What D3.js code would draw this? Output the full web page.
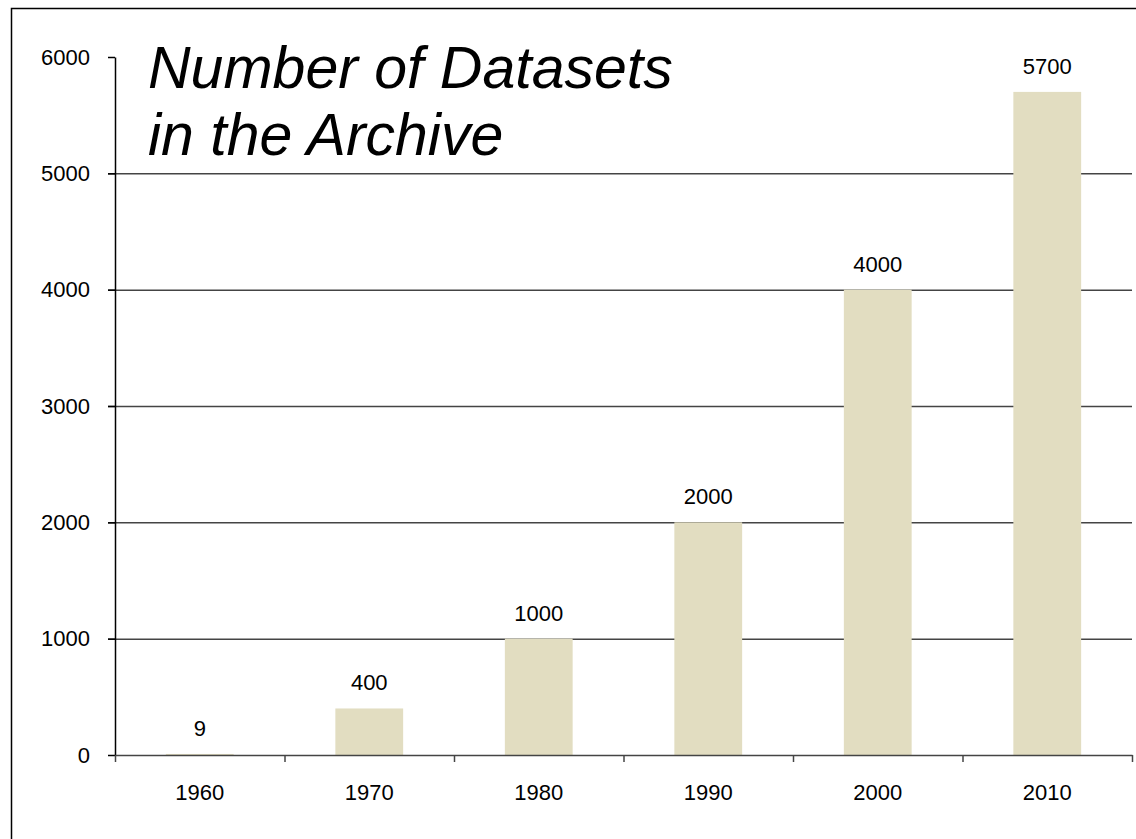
<!DOCTYPE html>
<html>
<head>
<meta charset="utf-8">
<script src="https://cdn.jsdelivr.net/npm/d3@7"></script>
<style>
  body { margin: 0; background: #fff; }
  svg { display: block; font-family: "Liberation Sans", Arial, sans-serif; }
</style>
</head>
<body>
<script>
// Chart data
var years = ["1960", "1970", "1980", "1990", "2000", "2010"];
var counts = [9, 400, 1000, 2000, 4000, 5700];
var yTicks = [0, 1000, 2000, 3000, 4000, 5000, 6000];
var titleLines = ["Number of Datasets", "in the Archive"];

// Chart Params
var svgWidth = 1136;
var svgHeight = 839;
var margin = { top: 57, right: 4, bottom: 84, left: 115 };
var width = svgWidth - margin.left - margin.right;
var height = svgHeight - margin.top - margin.bottom;

var svg = d3.select("body")
  .append("svg")
  .attr("width", svgWidth)
  .attr("height", svgHeight);

// outer frame (right / bottom edges run off the picture)
svg.append("rect")
  .attr("x", 11.5).attr("y", 8.5)
  .attr("width", svgWidth + 20).attr("height", svgHeight + 20)
  .attr("fill", "none")
  .attr("stroke", "#000")
  .attr("stroke-width", 1.5);

var chartGroup = svg.append("g")
  .attr("transform", `translate(${margin.left}, ${margin.top})`);

var x = d3.scaleBand()
  .domain(years)
  .range([0, width])
  .paddingInner(0.6)
  .paddingOuter(0.3);

var y = d3.scaleLinear()
  .domain([0, 6000])
  .range([height, 0]);

// gridlines
chartGroup.append("g")
  .attr("class", "grid")
  .call(d3.axisLeft(y).tickValues(yTicks.filter(d => d > 0 && d < 6000))
    .tickSize(-width - 7).tickFormat(""))
  .call(g => g.select(".domain").remove())
  .call(g => g.selectAll("line")
    .attr("x1", -7)
    .attr("x2", width)
    .attr("stroke", "#444")
    .attr("stroke-width", 1.5));

// bars
chartGroup.selectAll(".bar")
  .data(counts)
  .enter()
  .append("rect")
  .attr("class", "bar")
  .attr("x", (d, i) => x(years[i]))
  .attr("y", d => y(d))
  .attr("width", x.bandwidth())
  .attr("height", d => height - y(d))
  .attr("fill", "#e2ddc1");

// value labels
chartGroup.selectAll(".val")
  .data(counts)
  .enter()
  .append("text")
  .attr("class", "val")
  .attr("x", (d, i) => x(years[i]) + x.bandwidth() / 2)
  .attr("y", d => y(d) - 18)
  .attr("text-anchor", "middle")
  .attr("font-size", 22)
  .attr("fill", "#000")
  .text(d => d);

// y axis
var yAxis = chartGroup.append("g")
  .call(d3.axisLeft(y).tickValues(yTicks).tickFormat(d3.format("d"))
    .tickSize(7).tickSizeOuter(0).tickPadding(18));
yAxis.select(".domain").attr("stroke", "#000").attr("stroke-width", 1.5);
yAxis.selectAll("line").attr("stroke", "#000").attr("stroke-width", 1.5);
yAxis.selectAll("text")
  .attr("font-size", 22)
  .attr("font-family", "Liberation Sans, Arial, sans-serif")
  .attr("fill", "#000");

// x axis: ticks sit between the categories
var xEdge = d3.scaleLinear().domain([0, years.length]).range([0, width]);
var xAxis = chartGroup.append("g")
  .attr("transform", `translate(0, ${height})`)
  .call(d3.axisBottom(xEdge).tickValues(d3.range(years.length + 1))
    .tickSize(7).tickSizeOuter(0).tickFormat(""));
xAxis.select(".domain").attr("stroke", "#444").attr("stroke-width", 1.5);
xAxis.selectAll("line").attr("stroke", "#444").attr("stroke-width", 1.5);

chartGroup.selectAll(".xlab")
  .data(years)
  .enter()
  .append("text")
  .attr("class", "xlab")
  .attr("x", d => x(d) + x.bandwidth() / 2)
  .attr("y", height + 45)
  .attr("text-anchor", "middle")
  .attr("font-size", 22)
  .attr("fill", "#000")
  .text(d => d);

// title
svg.append("text")
  .attr("x", 148)
  .attr("font-size", 59)
  .attr("font-style", "italic")
  .attr("fill", "#000")
  .selectAll("tspan")
  .data(titleLines)
  .enter()
  .append("tspan")
  .attr("x", 148)
  .attr("y", (d, i) => 88 + i * 67)
  .text(d => d);
</script>
</body>
</html>
